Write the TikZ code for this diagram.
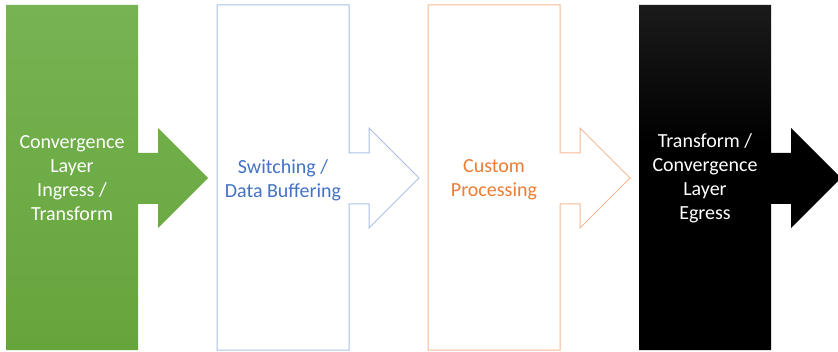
\documentclass[tikz,border=0pt]{standalone}
\usepackage{fontspec}
\setmainfont{Carlito}
\definecolor{greentop}{RGB}{126,186,94}
\definecolor{greenbot}{RGB}{94,158,48}
\definecolor{blueline}{RGB}{170,192,230}
\definecolor{bluetext}{RGB}{68,114,196}
\definecolor{orangeline}{RGB}{245,185,148}
\definecolor{orangetext}{RGB}{237,125,49}
\definecolor{darktop}{RGB}{60,60,60}
\pgfdeclareverticalshading{darkfade}{100bp}{
  color(0bp)=(black); color(55bp)=(black); color(100bp)=(darktop)}
\pgfdeclareverticalshading{greenfade}{100bp}{
  color(0bp)=(greenbot); color(100bp)=(greentop)}
\tikzset{
  x=1pt, y=1pt,
  label text/.style={align=center, font=\fontsize{20}{24}\selectfont},
  % block with a right-pointing arrow on its side, anchored at its left edge
  stage/.pic={
    \path[pic actions]
      (0,346) -- (132,346) -- (132,198) -- (152,198) -- (152,223)
      -- (202,173) -- (152,123) -- (152,147) -- (132,147)
      -- (132,1) -- (0,1) -- cycle;
  }
}
\begin{document}
\begin{tikzpicture}
\useasboundingbox (0,0) rectangle (838,351);
\pic[shading=greenfade, draw=none] (s1) at (6,0) {stage};
\pic[draw=blueline, line width=1pt, fill=white] (s2) at (217,0) {stage};
\pic[draw=orangeline, line width=1pt, fill=white] (s3) at (428,0) {stage};
\pic[shading=darkfade, draw=none] (s4) at (639,0) {stage};
\node[label text, text=white] (t1) at (72,173) {Convergence\\Layer\\Ingress /\\Transform};
\node[label text, text=bluetext] (t2) at (283,171) {Switching /\\Data Buffering};
\node[label text, text=orangetext] (t3) at (494,171) {Custom\\Processing};
\node[label text, text=white] (t4) at (705,173) {Transform /\\Convergence\\Layer\\Egress};
\end{tikzpicture}
\end{document}
